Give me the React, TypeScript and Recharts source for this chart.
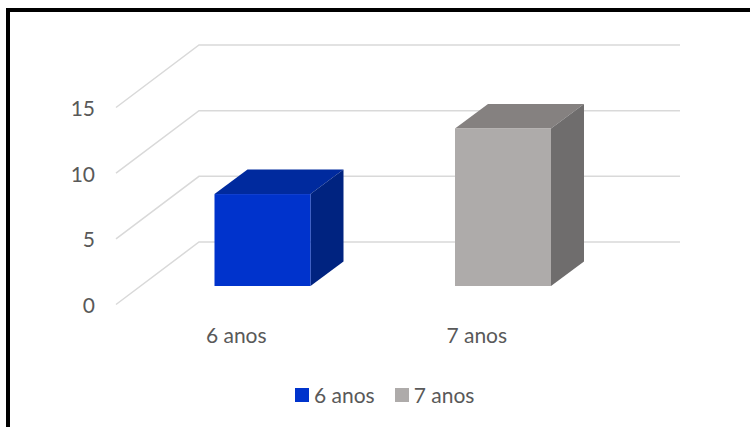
import { Bar, BarChart, CartesianGrid, Cell, Legend, XAxis, YAxis } from 'recharts'

const categories = ['6 anos', '7 anos']
const values = [7, 12]
const yTicks = [0, 5, 10, 15]

const frontColors = ['#0033CC', '#AEABAA']
const topColors = ['#002A9E', '#858180']
const sideColors = ['#002380', '#6F6D6D']

const data = categories.map((name, i) => ({ name, value: values[i] }))

const FONT = 'Lato, "Open Sans", sans-serif'
const TEXT_COLOR = '#595959'

// floor depth: from back wall to the front edge of the floor
const FLOOR_DX = -83
const FLOOR_DY = 62.5
// where the front face of the boxes sits, relative to the back wall
const BAR_DX = -56.5
const BAR_DY = 44
// depth of each box
const DEPTH_DX = 33
const DEPTH_DY = -24.5

const Box3D = (props: any) => {
    const { x, y, width, height, index } = props
    const fx = x + BAR_DX
    const top = y + BAR_DY
    const bottom = y + height + BAR_DY
    const right = fx + width
    return (
        <g>
            <polygon
                points={`${fx},${top} ${fx + DEPTH_DX},${top + DEPTH_DY} ${right + DEPTH_DX},${top + DEPTH_DY} ${right},${top}`}
                fill={topColors[index]}
            />
            <polygon
                points={`${right},${top} ${right + DEPTH_DX},${top + DEPTH_DY} ${right + DEPTH_DX},${bottom + DEPTH_DY} ${right},${bottom}`}
                fill={sideColors[index]}
            />
            <rect x={fx} y={top} width={width} height={height} fill={frontColors[index]} />
        </g>
    )
}

// back wall line + the diagonal running to the front of the floor
const GridLine = (props: any) => {
    const { x1, y1, x2, y2 } = props
    return (
        <polyline
            points={`${x1 + FLOOR_DX},${y1 + FLOOR_DY} ${x1},${y1} ${x2},${y2}`}
            fill="none"
            stroke="#D9D9D9"
            strokeWidth={1.5}
        />
    )
}

const YTick = (props: any) => {
    const { x, y, payload } = props
    return (
        <text x={x + FLOOR_DX - 21} y={y + FLOOR_DY + 1} dy="0.35em" textAnchor="end"
            fill={TEXT_COLOR} fontFamily={FONT} fontSize={21}>
            {payload.value}
        </text>
    )
}

const XTick = (props: any) => {
    const { x, y, payload } = props
    return (
        <text x={x + FLOOR_DX} y={y + FLOOR_DY + 31} dy="0.35em" textAnchor="middle"
            fill={TEXT_COLOR} fontFamily={FONT} fontSize={21}>
            {payload.value}
        </text>
    )
}

const LegendContent = () => (
    <div style={{ display: 'flex', alignItems: 'center', fontFamily: FONT, fontSize: 21, color: TEXT_COLOR, whiteSpace: 'nowrap' }}>
        {categories.map((c, i) => (
            <div key={c} style={{ display: 'flex', alignItems: 'center', marginRight: i < categories.length - 1 ? 20 : 0 }}>
                <span style={{ display: 'inline-block', width: 14, height: 14, background: frontColors[i], marginRight: 5 }} />
                <span>{c}</span>
            </div>
        ))}
    </div>
)

const App = () => {
    return (
        <div style={{ position: 'absolute', left: 0, top: 0, width: 750, height: 427, overflow: 'hidden', background: '#fff' }}>
            <div style={{ position: 'absolute', left: 6, top: 8, width: 800, height: 500, border: '4px solid #000' }} />
            <div style={{ position: 'absolute', left: 0, top: 0 }}>
                <BarChart
                    width={750}
                    height={427}
                    data={data}
                    margin={{ top: 45, right: 70, left: 119, bottom: 155 }}
                >
                    <CartesianGrid vertical={false} horizontal={GridLine} />
                    <XAxis dataKey="name" axisLine={false} tickLine={false} tickSize={0} tickMargin={0}
                        height={30} tick={<XTick />} interval={0} />
                    <YAxis domain={[0, 15]} ticks={yTicks} axisLine={false} tickLine={false}
                        tickSize={0} tickMargin={0} width={80} tick={<YTick />} />
                    <Legend layout="horizontal" verticalAlign="middle" align="center"
                        content={<LegendContent />}
                        wrapperStyle={{ top: 382, left: 295, width: 'auto' }} />
                    <Bar dataKey="value" barSize={96} shape={<Box3D />} isAnimationActive={false}>
                        {data.map((d, i) => (
                            <Cell key={d.name} fill={frontColors[i]} />
                        ))}
                    </Bar>
                </BarChart>
            </div>
        </div>
    )
}

export default App
